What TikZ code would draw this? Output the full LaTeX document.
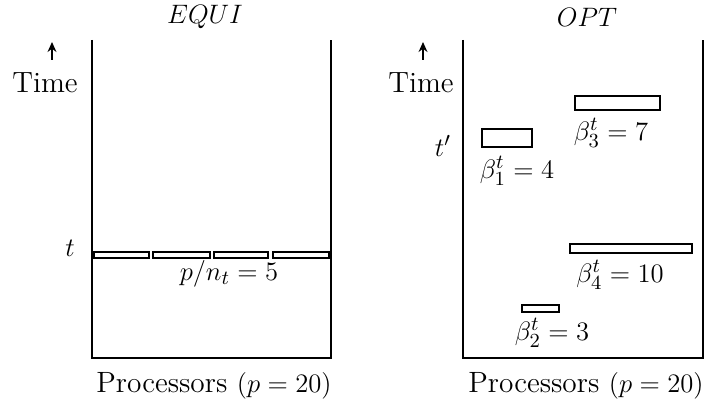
\documentclass[tikz,border=0pt]{standalone}
\usepackage{tikz}
\usetikzlibrary{arrows.meta}

\begin{document}
\begin{tikzpicture}[x=0.45pt, y=-0.45pt, font=\fontsize{13.2}{15}\selectfont,
  panel/.style={line width=1.2pt},
  job/.style={draw, line width=1.2pt, fill=white},
  arr/.style={-{Stealth[length=4.5pt,width=4pt]}, line width=1pt}]
\useasboundingbox (0,0) rectangle (710,408);
% EQUI
\node (teq) at (205,17) {$EQUI$};
\draw[panel] (92,40) |- (331,358) -- (331,40);
\coordinate (ea) at (52,60); \coordinate (eb) at (52,42);
\draw[arr] (ea) -- (eb);
\node (etime) at (45,83) {Time};
\node (et) at (70,248) {$t$};
\foreach \a/\b in {94/149,153/210,214/268,273/329}
  \draw[job] (\a,252) rectangle (\b,258);
\node (pn) at (229,274) {$p/n_t=5$};
\node (eproc) at (214,386) {Processors $(p=20)$};
% OPT
\node (topt) at (587,17) {$OPT$};
\draw[panel] (463,40) |- (703,358) -- (703,40);
\coordinate (oa) at (423,60); \coordinate (ob) at (423,42);
\draw[arr] (oa) -- (ob);
\node (otime) at (421,83) {Time};
\node (ot) at (443,146) {$t'$};
\draw[job] (482,129) rectangle (532,147);
\node (b1) at (517,171) {$\beta^t_1=4$};
\draw[job] (575,96) rectangle (660,110);
\node (b3) at (611,133) {$\beta^t_3=7$};
\draw[job] (570,244) rectangle (692,253);
\node (b4) at (620,275) {$\beta^t_4=10$};
\draw[job] (522,305) rectangle (559,312);
\node (b2) at (552,333) {$\beta^t_2=3$};
\node (oproc) at (586,386) {Processors $(p=20)$};
\end{tikzpicture}
\end{document}
